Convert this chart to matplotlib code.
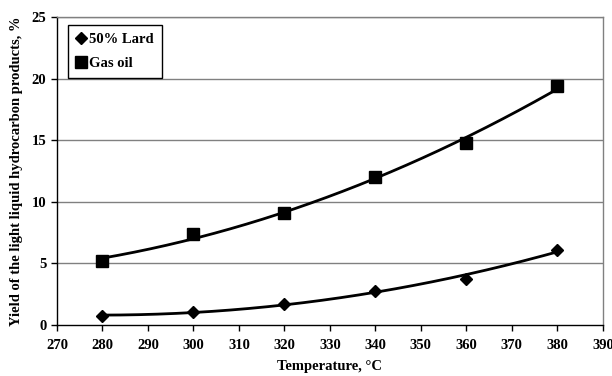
import numpy as np
import matplotlib
matplotlib.use("Agg")
import matplotlib.pyplot as plt

temperature = [280, 300, 320, 340, 360, 380]
lard_50 = [0.75, 1.05, 1.7, 2.8, 3.75, 6.1]
gas_oil = [5.2, 7.4, 9.1, 12.0, 14.8, 19.4]
x_ticks = [270, 280, 290, 300, 310, 320, 330, 340, 350, 360, 370, 380, 390]
y_ticks = [0, 5, 10, 15, 20, 25]

plt.rcParams['font.family'] = ['Liberation Serif', 'DejaVu Serif']
plt.rcParams['font.weight'] = 'bold'

fig = plt.figure(figsize=(6.12, 3.76), dpi=100)
ax = fig.add_axes([0.093, 0.1356, 0.892, 0.819])

for yv in [5, 10, 15, 20, 25]:
    ax.axhline(yv, color='#808080', lw=1.0, zorder=1)

t = np.array(temperature, dtype=float)
tt = np.linspace(280, 380, 200)
for ys in (lard_50, gas_oil):
    c = np.polyfit(t, ys, 2)
    ax.plot(tt, np.polyval(c, tt), color='black', lw=2, zorder=2)

ax.plot(temperature, lard_50, linestyle='none', marker='D', ms=6.5, color='black', label='50% Lard', zorder=3)
ax.plot(temperature, gas_oil, linestyle='none', marker='s', ms=8, color='black', label='Gas oil', zorder=3)

ax.set_xlim(270, 390)
ax.set_ylim(0, 25)
ax.set_xticks(x_ticks)
ax.set_yticks(y_ticks)
ax.tick_params(axis='both', labelsize=10.5, length=4, width=1, direction='out', color='black')
ax.tick_params(axis='x', pad=6)
for lab in ax.get_xticklabels() + ax.get_yticklabels():
    lab.set_fontweight('bold')

ax.spines['left'].set_color('black')
ax.spines['bottom'].set_color('black')
ax.spines['top'].set_color('#808080')
ax.spines['right'].set_color('#808080')
for s in ax.spines.values():
    s.set_linewidth(1.0)

ax.set_xlabel('Temperature, °C', fontsize=10.5, fontweight='bold', labelpad=6)
ax.set_ylabel('Yield of the light liquid hydrocarbon products, %', fontsize=10.5, fontweight='bold', labelpad=6)

leg = ax.legend(loc='upper left', bbox_to_anchor=(0.02, 0.974), borderaxespad=0, fancybox=False, framealpha=1,
                edgecolor='black', handlelength=0.7, handletextpad=0.2, borderpad=0.55,
                labelspacing=0.75, prop={'size': 10.5, 'weight': 'bold'})
leg.get_frame().set_linewidth(1.0)

fig.savefig('out.png', dpi=100)
